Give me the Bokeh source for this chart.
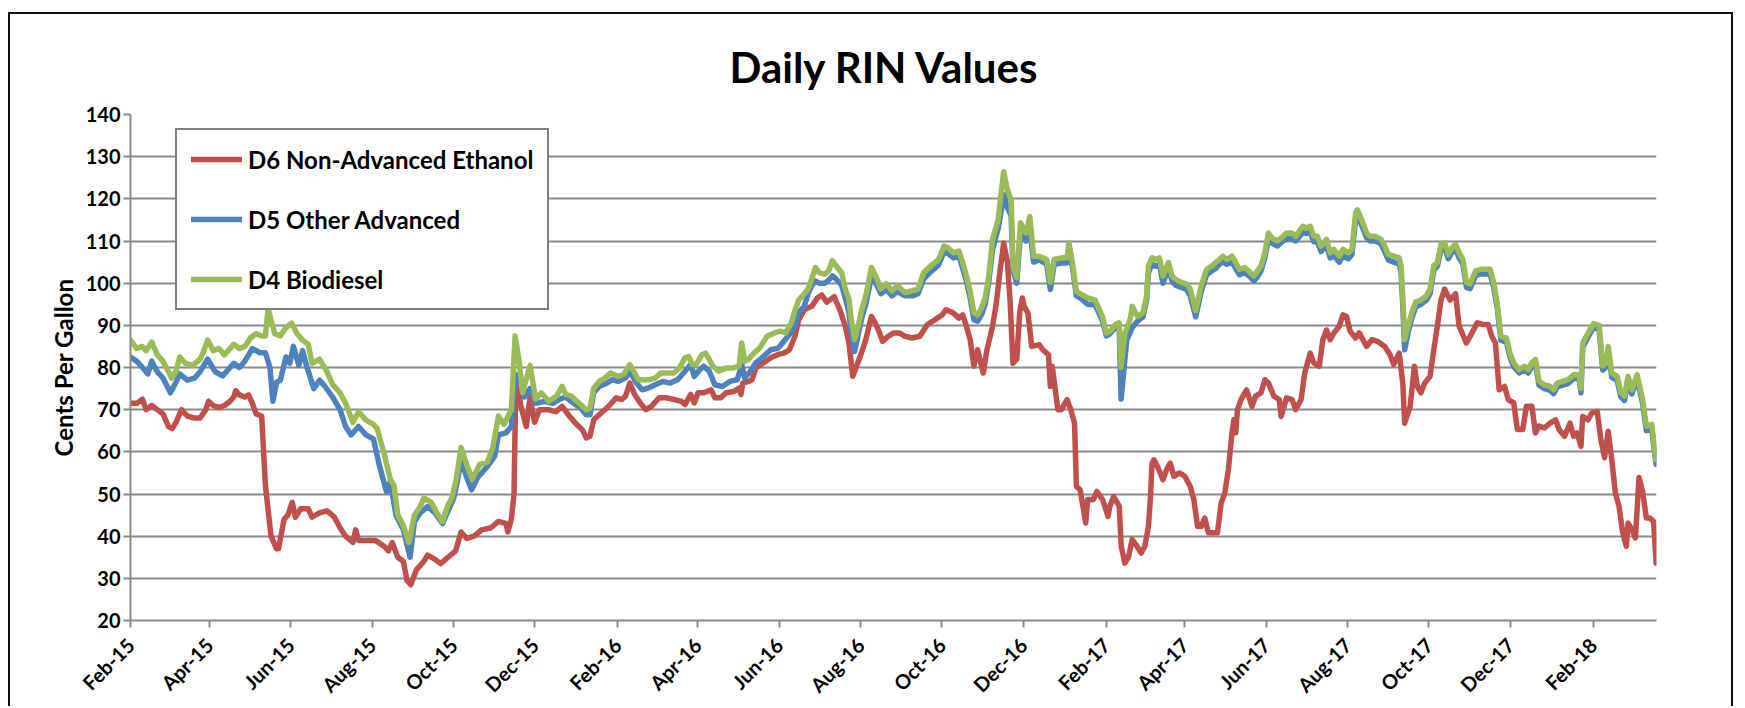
import math
import numpy as np
import pandas as pd
from bokeh.plotting import figure
from bokeh.models import Range1d, FixedTicker, DatetimeTickFormatter
from bokeh.embed import file_html
from bokeh.resources import INLINE

START = pd.Timestamp("2015-02-01")

tick_dates = ["2015-02-01", "2015-04-01", "2015-06-01", "2015-08-01", "2015-10-01", "2015-12-01",
              "2016-02-01", "2016-04-01", "2016-06-01", "2016-08-01", "2016-10-01", "2016-12-01",
              "2017-02-01", "2017-04-01", "2017-06-01", "2017-08-01", "2017-10-01", "2017-12-01",
              "2018-02-01"]
y_ticks = [20, 30, 40, 50, 60, 70, 80, 90, 100, 110, 120, 130, 140]

# ---- D6 Non-Advanced Ethanol (days since 2015-02-01, cents) ----
d6_day = [0, 4.7, 8.9, 11.7, 15.9, 20.1, 24.3, 28.5, 31.3, 34.1, 38.3, 42.5, 48, 52.2, 56.4, 58.4, 62, 66.2,
          70.4, 74.6, 77.4, 78.8, 81.6, 85.7, 88.5, 91.3, 94.1, 98.3, 101.1, 105.3, 109.5, 110.9, 115.1, 117.9,
          121.2, 123.5, 127.6, 133.2, 136, 141.6, 147.2, 152.8, 157, 161.2, 166.7, 168.7, 170.9, 176.5, 183.5,
          190.5, 193.3, 196.1, 200.3, 204.5, 207.2, 210, 214.2, 219.8, 222.6, 228.2, 232.4, 238, 243.6, 247.7,
          251.9, 257.5, 263.1, 270.1, 275.7, 281.3, 282.7, 285.4, 287.4, 288.5, 289.6, 292.4, 296.6, 299.4,
          302.8, 306.4, 313.4, 319, 323.4, 329, 334.6, 338.7, 341.5, 344.3, 347.1, 352.7, 358.3, 363.9, 368.1,
          370.9, 374.2, 377.8, 382, 386.2, 390.4, 396, 401.6, 407.2, 412.8, 415.5, 419.7, 422.5, 425.3, 429.5,
          435.1, 437.9, 442.1, 446.3, 451.9, 456, 457.4, 458.8, 463, 465.8, 468.6, 474.2, 479.8, 485.4, 489.6,
          493.8, 497.9, 500.7, 504.9, 510.5, 514.7, 518, 521.7, 527.3, 531.5, 535.6, 538.4, 539.8, 541.2, 544,
          546.8, 551, 555.2, 558, 560.8, 563.6, 567.8, 572, 576.1, 580.3, 585.9, 591.5, 597.1, 602.7, 608.3,
          611.1, 616.6, 620.8, 623.6, 626.4, 629.2, 632, 634.8, 639, 641.8, 646, 648.8, 651.6, 654.3, 657.1,
          659.1, 661.3, 664.1, 666.3, 668.3, 669.7, 672.5, 675.3, 680.9, 683.7, 687.9, 689.3, 690.7, 694.9,
          697.6, 701.8, 704.6, 707.4, 708.8, 711.6, 715.8, 717.2, 721.4, 724.2, 728.4, 732.5, 733.9, 736.7,
          740.9, 742.4, 745.1, 747.8, 750.6, 753.3, 757.4, 760.1, 762.8, 764.2, 765.5, 766.9, 769.6, 773.7,
          776.4, 779.1, 781.9, 786, 790, 794.1, 796.8, 799.6, 802.3, 805, 807.7, 811.8, 814.5, 817.3, 820,
          822.7, 825.4, 826.8, 828.2, 829.5, 832.2, 836.3, 840.4, 843.1, 847.2, 850, 852.7, 856.8, 860.8,
          862.2, 866.3, 870.4, 873.1, 877.2, 879.9, 884, 886.7, 890.8, 893.5, 896.2, 899, 901.7, 905.8, 908.5,
          911.2, 913.9, 918, 920.7, 926.2, 930.3, 934.4, 939.8, 943.9, 946.6, 950.7, 953.4, 954.8, 958.9,
          962.1, 964.3, 967, 969.8, 973.8, 976.6, 979.3, 982, 984.7, 988.8, 992.9, 995.6, 1001.1, 1005.2,
          1009.2, 1013.3, 1017.4, 1020.1, 1022.8, 1025.6, 1029.7, 1032.4, 1036.5, 1039.2, 1043.3, 1046,
          1050.1, 1052.8, 1055.5, 1059.6, 1063.7, 1067.8, 1070.5, 1074.6, 1078.7, 1081.4, 1084.1, 1086.9,
          1088.2, 1092.3, 1095, 1099.1, 1101.8, 1104.6, 1107.3, 1110, 1112.7, 1115.4, 1118.2, 1120.9, 1122.2,
          1125, 1127.7, 1130.4, 1133.1, 1135.9, 1138.6, 1141.3, 1143.2]
d6_val = [71.5, 71.5, 72.5, 70, 71, 70, 69, 66, 65.5, 67, 70, 68.5, 68, 68, 70, 72, 71, 70.5,
          71, 72, 73, 74.5, 73.5, 73, 73.5, 71.5, 69, 68.5, 52, 40, 37, 37, 44, 45,
          48, 44.5, 46.5, 46.5, 44.5, 45.5, 46, 44.5, 42, 40, 38.5, 41.5, 39, 39, 39,
          37.5, 36.5, 38.5, 35, 34, 29.5, 28.5, 32, 34, 35.5, 34.5, 33.5, 35, 36.5, 41,
          39.5, 40, 41.5, 42, 43.5, 43, 41, 44, 50, 72, 77, 71, 66, 73,
          67, 70, 70, 69.5, 70.8, 68.4, 66.4, 65.2, 63.3, 63.7, 67.6, 69.2, 70.8, 72.8, 72.4,
          73.2, 76.3, 73.6, 71.6, 70, 70.8, 72.8, 72.8, 72.4, 72, 71.2, 73.6, 71.6, 74, 74,
          74.7, 72.8, 72.8, 74, 74.3, 75.1, 73.6, 76.3, 76.7, 77.1, 79.9, 81.1, 82.3, 83.1, 83.4,
          84.2, 87.4, 91.3, 93.7, 94.5, 96.5, 97.2, 95.5, 96.8, 93.7, 89.8, 85.8, 81.9, 77.9, 80.3,
          82.6, 86.6, 92.1, 90.6, 88.6, 86.2, 87.4, 88.2, 88.2, 87.4, 87, 87.4, 90.2, 91.3, 92.5,
          93.7, 92.9, 91.7, 92.5, 89.8, 86.6, 80.3, 84.2, 78.7, 84.2, 89.8, 95.3, 103, 109.5, 105,
          96, 81, 82, 93, 96.5, 94.5, 92.9, 85, 85.4, 84.2, 83, 75.5, 80.3, 70,
          70, 72.4, 70, 66.8, 51.8, 51, 43.1, 48.7, 48.7, 50.6, 48.7, 44.7, 47.1, 49.4,
          47.1, 37.6, 33.6, 35, 39.2, 38, 36, 37.6, 42.3, 48.7, 57.3, 58.1, 56.5, 53.4,
          55.8, 57.3, 54.2, 55, 54.2, 51.8, 48.7, 42.3, 42.3, 44.3, 40.8, 40.8, 40.8, 47.9, 50.2,
          55.8, 64.5, 67.6, 64.5, 70, 72.4, 74.7, 70.8, 73.2, 74, 77.1, 76.3, 73.2, 72.4,
          68.4, 72.8, 72.4, 70, 72.4, 78.7, 83.4, 81.1, 80.3, 86.6, 88.9, 86.6, 88.2, 89.8, 92.5,
          92.1, 88.6, 87, 88.2, 85, 86.6, 86.2, 85, 83, 80.7, 83.4, 76.3, 66.8, 70.8,
          80.3, 75.5, 74, 76.3, 77.9, 84.2, 89.8, 96, 98.6, 96, 97.5, 89.8, 85.8, 88.2,
          90.6, 90.2, 90.2, 87.4, 85.8, 74.7, 75.5, 72.4, 71.6, 65.3, 65.3, 70.8,
          70.8, 64.5, 66.1, 65.7, 66.8, 67.6, 65.3, 63.7, 66.8, 63.7, 64.5, 61.3,
          68.4, 67.6, 69.2, 69.6, 62.9, 58.6, 64.9, 58.1, 50.2, 47.1, 40.8, 37.6, 43.1,
          41.6, 39.6, 53.9, 50.6, 44.3, 44.3, 43.5, 33.6]

# ---- D5 Other Advanced ----
d5_day = [0, 4.7, 8.9, 13.1, 15.9, 20.1, 24.3, 29.9, 34.1, 36.9, 42.5, 48, 52.2, 57.8, 63.4, 69, 71.8, 77.4,
          81.6, 85.7, 91.3, 96.9, 101.1, 104.5, 106.7, 109.5, 112.3, 116.5, 119.3, 122.1, 126.2, 129, 131.8,
          137.4, 141.6, 145.8, 151.4, 157, 161.2, 165.3, 170.9, 176.5, 182.1, 186.3, 191.9, 194.7, 198.9,
          204.5, 209.5, 212.8, 217, 222.6, 228.2, 233.8, 238, 242.2, 244.9, 247.7, 251.9, 255.6, 260.3, 267.3,
          272.9, 275.7, 281.3, 285.4, 288.2, 291, 295.2, 299.4, 303.6, 310.6, 316.2, 321.8, 326, 331.8, 337.3,
          341.5, 344.3, 347.1, 351.3, 356.9, 361.1, 365.3, 370.9, 374.2, 379.2, 383.4, 387.6, 393.2, 398.8,
          404.4, 410, 415.5, 419.7, 422.5, 426.7, 429.5, 433.7, 437.9, 443.5, 449.1, 454.7, 458, 460.2, 464.4,
          468.6, 474.2, 479.8, 485.4, 489.6, 493.8, 497.9, 500.7, 504.9, 507.7, 510.5, 513.3, 516.1, 520.3,
          523.1, 525.9, 528.7, 532.9, 535.6, 538.4, 539.8, 542.6, 545.4, 548.2, 551, 555.2, 559.4, 562.2,
          566.4, 570.6, 574.7, 580.3, 585.9, 590.1, 594.3, 599.9, 605.5, 609.7, 612.5, 616.6, 620.8, 623.6,
          626.4, 629.2, 632, 634.8, 637.6, 640.4, 643.2, 646, 650.2, 653, 654.3, 657.1, 659.9, 661.3, 664.1,
          666.9, 671.1, 673.9, 676.7, 680.9, 686.5, 689.3, 692.1, 697.6, 701.8, 703.2, 706, 708.8, 711.6,
          717.2, 722.8, 725.6, 728.4, 731.2, 733.9, 738.1, 740.9, 742.3, 746.5, 750.7, 754.6, 758.7, 761.4,
          762.8, 765.5, 768.3, 771, 773.7, 777.8, 780.5, 783.2, 787.3, 791.4, 794.1, 798.2, 802.3, 806.4,
          810.5, 813.2, 815.9, 818.6, 821.4, 825.4, 828.2, 830.9, 835, 839.1, 841.8, 844.5, 847.2, 850,
          852.7, 855.4, 859.5, 863.6, 866.3, 870.4, 873.1, 875.8, 878.5, 881.3, 884, 886.7, 889.4, 892.1,
          896.2, 899, 901.7, 905.8, 908.5, 912.6, 915.3, 918, 919.4, 923.5, 926.2, 928.9, 933, 937.1, 939.8,
          942.5, 946.6, 950.7, 952.1, 953.4, 954.8, 957.5, 960.2, 963, 967, 971.1, 973.8, 976.6, 979.3, 982,
          984.7, 987.5, 990.2, 992.9, 995.6, 998.4, 1001.1, 1003.8, 1007.9, 1011.9, 1016, 1018.8, 1021.5,
          1024.2, 1026.9, 1031, 1033.7, 1036.5, 1040.6, 1044.6, 1047.4, 1050.1, 1052.8, 1055.5, 1059.6,
          1063.7, 1066.4, 1069.1, 1073.2, 1077.3, 1081.4, 1085.5, 1086.9, 1088.2, 1090.9, 1093.6, 1096.4,
          1100.5, 1103.2, 1105.9, 1107.3, 1110, 1114.1, 1116.8, 1119.5, 1122.2, 1125, 1129, 1133.1, 1135.9,
          1139.9, 1143.2]
d5_val = [82.5, 81.5, 80, 78.5, 81.5, 79, 77.5, 74, 76.5, 78.5, 77, 77.5, 79, 82, 79, 78, 79, 81,
          80, 81.5, 84.5, 83.5, 83.5, 80, 72, 76.5, 77, 82.5, 81, 85, 80.5, 84, 80.5,
          75, 77, 75.5, 73, 70, 66, 64, 66, 64, 63, 57, 50.5, 53, 45,
          41.5, 35, 43.5, 45.5, 47, 45.5, 43, 46, 49, 53, 58, 54, 51, 54, 56.5,
          59, 64, 64.5, 66, 78.5, 77, 73, 75, 71.5, 72, 71.5, 72.5, 73, 71.6, 70.4,
          68.8, 68.8, 74, 75.5, 76.3, 77.1, 76.7, 77.5, 79.1, 76.3, 74.7, 75.1, 75.9, 76.7,
          76.3, 77.1, 79.1, 80.7, 77.9, 79.5, 80.3, 79.1, 75.9, 75.5, 76.7, 77.1, 80.7, 77.5, 79.1,
          81.1, 82.6, 84.2, 84.6, 86.2, 87.8, 89.8, 93, 94.5, 97.5, 99.5, 100.5, 100, 100,
          100.7, 101.7, 101, 99.5, 96.5, 93, 89, 83.8, 88, 92, 95, 101.5, 99.5, 97.5,
          98.5, 97, 98, 97, 97, 97.5, 101, 102.8, 104.3, 107.5, 107, 106, 106.5, 103.5,
          100.5, 96.5, 91.3, 91, 92.5, 95, 100.5, 108, 113, 118, 121, 118, 116, 103, 100,
          112, 110, 113, 105, 105.5, 104.5, 98.5, 104.5, 104.8, 104.8, 108, 103.5, 97, 96.5,
          95, 94.8, 93, 91, 87.5, 88, 89.5, 89, 72.5, 86.5, 89.5, 91, 92, 96,
          102.5, 104.5, 104, 104.5, 100, 103.5, 100.5, 99.5, 99, 98.5, 97, 92, 98, 102,
          103, 103.5, 104.5, 105, 104.5, 105, 103.5, 102, 102.5, 101.5, 100.5, 101.5, 103, 106,
          110.5, 109.5, 108.8, 110, 110.7, 110.5, 110, 111, 112, 111.8, 112.2, 109.8, 109.8, 107.5,
          109, 106, 106.5, 105, 106.5, 105.8, 106.8, 115, 116, 113, 110.8, 110, 110, 109.3, 107.5,
          105.5, 105, 104.5, 102.5, 94.5, 84.2, 88.5, 91.8, 94.3, 95, 96, 97.5, 103, 104, 108,
          108.5, 105.8, 107.3, 108, 106, 104.5, 99, 98.7, 101.8, 102.2, 102.2, 102.2, 99,
          94, 86.5, 86, 82.5, 80.2, 78.7, 79.5, 78.7, 80.2, 81, 75.8, 75,
          74.6, 73.8, 75.4, 75.8, 76.2, 77.4, 77.4, 74, 84.8, 86.4, 88, 89.5,
          89, 79.4, 80.1, 84, 77.7, 76.9, 73, 72.2, 76.9, 73.7, 77.3, 71.4, 65,
          65.4, 57]

# ---- D4 Biodiesel ----
d4_day = [0, 4.7, 8.9, 11.7, 15.9, 20.1, 24.3, 28.5, 30.7, 34.1, 36.9, 41.1, 46.6, 52.2, 55, 57.8, 62, 66.2,
          70.4, 73.2, 77.4, 81.6, 85.7, 89.9, 94.1, 98.3, 101.1, 103.1, 105.5, 108.1, 112.3, 116.5, 120.7,
          124.8, 129, 133.2, 136, 141.6, 147.2, 151.4, 157, 161.2, 166.7, 170.9, 176.5, 182.1, 184.9, 190.5,
          194.7, 197.5, 200.3, 204.5, 208.6, 212.8, 217, 219.8, 225.4, 229.6, 233.8, 238, 240.8, 244.1, 247.7,
          251.9, 256.1, 261.7, 267.3, 271.5, 275.7, 279.9, 285.4, 288.2, 291, 293.8, 299.4, 303.6, 307.8,
          313.4, 319.2, 323.4, 326.2, 330.4, 334.6, 338.7, 341.5, 344.3, 347.1, 351.3, 355.5, 359.7, 365.3,
          369.5, 374.2, 376.4, 380.6, 384.8, 389, 393.2, 397.4, 403, 407.2, 411.4, 415.5, 418.3, 421.1, 423.9,
          428.1, 430.9, 433.7, 436.5, 440.7, 446.3, 451.9, 456, 458, 460.2, 463, 467.2, 471.4, 477, 482.6,
          486.8, 491, 495.2, 497.9, 500.7, 504.9, 507.7, 510.5, 513.3, 516.1, 520.3, 523.1, 525.9, 528.7,
          532.9, 535.6, 538.4, 539.8, 542.6, 545.4, 548.2, 551, 555.2, 559.4, 562.2, 566.4, 570.6, 574.7,
          580.3, 585.9, 590.1, 594.3, 599.9, 605.5, 609.7, 612.5, 616.6, 620.8, 623.6, 626.4, 629.2, 632,
          634.8, 637.6, 640.4, 643.2, 646, 650.2, 653, 654.3, 657.1, 659.9, 661.3, 664.1, 666.9, 671.1, 673.9,
          676.7, 680.9, 686.5, 689.3, 692.1, 697.6, 701.8, 703.2, 706, 708.8, 711.6, 717.2, 722.8, 725.6,
          728.4, 731.2, 733.9, 738.1, 740.9, 742.3, 745.1, 749.3, 750.6, 754.6, 758.7, 761.4, 762.8, 765.5,
          768.3, 771, 773.7, 777.8, 780.5, 783.2, 787.3, 791.4, 794.1, 798.2, 802.3, 806.4, 810.5, 813.2,
          815.9, 818.6, 821.4, 825.4, 828.2, 830.9, 835, 839.1, 841.8, 844.5, 847.2, 850, 852.7, 855.4,
          859.5, 863.6, 866.3, 870.4, 873.1, 875.8, 878.5, 881.3, 884, 886.7, 889.4, 892.1, 896.2, 899,
          901.7, 905.8, 908.5, 912.6, 915.3, 918, 919.4, 923.5, 926.2, 928.9, 933, 937.1, 939.8, 942.5,
          946.6, 950.7, 952.1, 953.4, 954.8, 957.5, 960.2, 963, 967, 971.1, 973.8, 976.6, 979.3, 982, 984.7,
          987.5, 990.2, 992.9, 995.6, 998.4, 1001.1, 1003.8, 1007.9, 1011.9, 1016, 1018.8, 1021.5, 1024.2,
          1026.9, 1031, 1033.7, 1036.5, 1040.6, 1044.6, 1047.4, 1050.1, 1052.8, 1055.5, 1059.6, 1063.7,
          1066.4, 1069.1, 1073.2, 1077.3, 1081.4, 1085.5, 1086.9, 1088.2, 1090.9, 1093.6, 1096.4, 1100.5,
          1103.2, 1105.9, 1107.3, 1110, 1114.1, 1116.8, 1119.5, 1122.2, 1125, 1129, 1133.1, 1135.9, 1139.9,
          1143.2]
d4_val = [86.5, 84.5, 85, 84, 86, 83, 81.5, 79, 77.5, 79, 82.5, 81, 80.5, 82, 84, 86.5, 84, 84.5,
          83, 84, 85.5, 84.5, 85, 87, 88, 87.5, 87.5, 94, 91, 88, 87.5, 89.5, 90.5,
          88, 86.5, 85.5, 81, 82, 79, 76, 74, 71.5, 67, 69.5, 67.5, 66.5, 65.5, 59,
          53.5, 52, 45, 42.5, 38.5, 45, 47, 49, 48, 45.5, 43.5, 47.5, 49, 53.5, 61,
          57, 53.5, 57, 57.5, 61, 68.5, 66.5, 70, 87.5, 82, 74, 80.5, 72.5, 74,
          72, 73.2, 75.5, 73.6, 73.2, 72, 70.8, 70, 70.4, 75.1, 76.7, 77.5, 78.7, 77.9,
          78.3, 80.7, 79.5, 77.1, 77.1, 77.1, 77.5, 78.7, 78.7, 78.7, 79.9, 82.3, 82.6, 80.7, 80.7,
          83, 83.4, 81.9, 80.3, 79.1, 79.9, 79.9, 80.3, 85.8, 81.5, 81.9, 83.4, 84.6, 87.4, 88.2,
          88.6, 88.2, 90.6, 93.5, 96, 97.5, 98.6, 101, 103.7, 102.5, 102.1, 102.9, 105.3, 104.1,
          102.5, 98.6, 96.2, 92, 86.6, 90, 94, 97, 103.7, 101, 98.6, 99.8, 98.2, 99.4,
          97.8, 98.2, 98.6, 102.5, 104.1, 105.6, 108.8, 108.4, 107.2, 107.6, 104.9, 101.7, 98, 93,
          92.5, 94, 96.5, 101.7, 110.4, 115.1, 122.9, 126.4, 122.1, 119.8, 104.1, 101.3, 114.3, 111.9, 115.8,
          106.4, 106.4, 105.6, 100.2, 105.6, 106, 106, 109.6, 104.5, 98, 97.5, 96.5, 96, 94,
          92, 88.2, 88.6, 90.2, 90.6, 80, 88, 91.7, 94.5, 92.1, 93, 97, 104.1, 106,
          105.6, 106, 101.7, 104.9, 101.7, 100.9, 100.2, 99.8, 98.6, 93.5, 99.4, 103.3, 104.1, 104.9,
          105.6, 106.4, 105.6, 106.4, 104.9, 103.3, 103.7, 102.5, 101.7, 102.9, 104.1, 107.2, 111.9, 110.7,
          110, 111.1, 111.9, 111.9, 111.1, 112.3, 113.5, 113.1, 113.5, 111.1, 111.1, 108.8, 110.4, 107.2,
          108, 106.4, 108, 107.2, 108, 116.6, 117.4, 114.3, 111.9, 111.1, 111.1, 110.4, 108.8, 106.8,
          106.4, 106, 104.1, 96.2, 86.6, 90, 93, 95.5, 96, 97, 98.6, 104.1, 104.9, 109.2, 109.6,
          106.8, 108.4, 109.2, 107.2, 105.6, 100.2, 99.8, 102.9, 103.3, 103.3, 103.3, 100.2, 95,
          87.4, 87, 83.4, 81.1, 79.5, 80.3, 79.5, 81.1, 81.9, 76.7, 75.9, 75.5,
          74.7, 76.3, 76.7, 77.1, 78.3, 78.3, 75, 85.8, 87.4, 88.9, 90.4, 90,
          80.4, 81.1, 85, 78.7, 77.9, 74, 73.2, 77.9, 74.7, 78.3, 72.4, 66.1, 66.5,
          58.1]


def to_dates(days):
    return START + pd.to_timedelta(np.asarray(days, dtype=float), unit="D")


FONT = "Lato"
GRID = "#8a8a8a"

p = figure(width=1725, height=694, x_axis_type="datetime",
           output_backend="svg", toolbar_location=None,
           x_range=Range1d(START, START + pd.Timedelta(days=1143.5)),
           y_range=Range1d(20, 140),
           min_border_left=120, min_border_right=79, min_border_top=100, min_border_bottom=87)

p.styles = {"position": "relative", "left": "8px", "top": "12px",
            "border-left": "2px solid #111", "border-top": "2px solid #111",
            "border-right": "2px solid #111"}

p.background_fill_color = "white"
p.border_fill_color = "white"
p.outline_line_color = None

# title
p.title.text = "Daily RIN Values"
p.title.text_font = FONT
p.title.text_font_size = "42px"
p.title.text_font_style = "bold"
p.title.text_color = "black"
p.title.align = "left"
p.title.offset = 599
p.title.standoff = 46

# lines
LW = 5.5
p.line(to_dates(d6_day), d6_val, line_color="#C0504D", line_width=LW, line_join="round",
       line_cap="round", legend_label="D6 Non-Advanced Ethanol")
p.line(to_dates(d5_day), d5_val, line_color="#4F81BD", line_width=LW, line_join="round",
       line_cap="round", legend_label="D5 Other Advanced")
p.line(to_dates(d4_day), d4_val, line_color="#9BBB59", line_width=LW, line_join="round",
       line_cap="round", legend_label="D4 Biodiesel")

# axes
tick_ms = [pd.Timestamp(d).value // 10**6 for d in tick_dates]
p.xaxis.ticker = FixedTicker(ticks=tick_ms)
fmt = "%b-%y"
p.xaxis.formatter = DatetimeTickFormatter(milliseconds=fmt, seconds=fmt, minsec=fmt, minutes=fmt,
                                          hourmin=fmt, hours=fmt, days=fmt, months=fmt, years=fmt)
p.xaxis.major_label_orientation = math.pi / 4
p.yaxis.ticker = FixedTicker(ticks=y_ticks)

for ax in (p.xaxis[0], p.yaxis[0]):
    ax.axis_line_color = GRID
    ax.axis_line_width = 2
    ax.major_tick_line_color = GRID
    ax.major_tick_line_width = 2
    ax.major_tick_out = 7
    ax.major_tick_in = 0
    ax.minor_tick_line_color = None
    ax.major_label_text_font = FONT
    ax.major_label_text_font_style = "bold"
    ax.major_label_text_color = "black"

p.xaxis.major_label_standoff = 14
p.yaxis.major_label_standoff = 3
p.xaxis.major_label_text_font_size = "20px"
p.yaxis.major_label_text_font_size = "20px"
p.yaxis.axis_label = "Cents Per Gallon"
p.yaxis.axis_label_text_font = FONT
p.yaxis.axis_label_text_font_size = "24px"
p.yaxis.axis_label_text_font_style = "bold"
p.yaxis.axis_label_text_color = "black"
p.yaxis.axis_label_standoff = 5

p.xgrid.visible = False
p.ygrid.grid_line_color = GRID
p.ygrid.grid_line_width = 2

# legend
lg = p.legend[0]
lg.location = (45, 310)
lg.margin = 0
lg.padding = 14
lg.spacing = 30
lg.glyph_width = 51
lg.glyph_height = 30
lg.label_height = 30
lg.label_standoff = 6
lg.label_text_font = FONT
lg.label_text_font_size = "24px"
lg.label_text_font_style = "bold"
lg.label_text_color = "black"
lg.border_line_color = "black"
lg.border_line_width = 2
lg.background_fill_color = "white"
lg.background_fill_alpha = 1.0

open("out.html", "w").write(file_html(p, INLINE))
